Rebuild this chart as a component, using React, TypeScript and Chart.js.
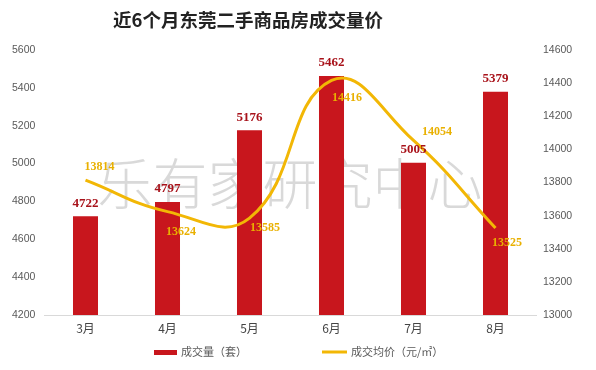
import React, { useEffect, useRef } from "react";
import { Chart, registerables } from "chart.js";

Chart.register(...registerables);

const title = "近6个月东莞二手商品房成交量价";
const categories = ["3月", "4月", "5月", "6月", "7月", "8月"];
const volume = [4722, 4797, 5176, 5462, 5005, 5379];
const price = [13814, 13624, 13585, 14416, 14054, 13525];
const volumeLabel = "成交量（套）";
const priceLabel = "成交均价（元/㎡）";
const leftAxis = { min: 4200, max: 5600, step: 200 };
const rightAxis = { min: 13000, max: 14600, step: 200 };
const watermark = "乐有家研究中心";

// label offsets (style only) for price labels relative to their points
const priceLabelOffsets: [number, number][] = [
  [14, -13],
  [13.5, 20],
  [15.5, 10],
  [15.5, 17],
  [23.5, -9],
  [11.5, 15],
];

const BAR = "#C8161D";
const LINE = "#F2B705";

const overlay = {
  id: "overlay",
  beforeDatasetsDraw(chart: any) {
    const { ctx } = chart;
    ctx.save();
    ctx.font = '300 55px "Noto Sans CJK SC"';
    ctx.fillStyle = "rgba(165,165,165,0.42)";
    ctx.textAlign = "center";
    ctx.textBaseline = "middle";
    ctx.fillText(watermark, 290, 183);
    ctx.restore();
  },
  afterDatasetsDraw(chart: any) {
    const { ctx } = chart;
    ctx.save();
    ctx.textAlign = "center";
    ctx.textBaseline = "middle";
    const barMeta = chart.getDatasetMeta(0);
    ctx.font = 'bold 13px "Liberation Serif"';
    ctx.fillStyle = "#A8121A";
    barMeta.data.forEach((el: any, i: number) => {
      ctx.fillText(String(volume[i]), el.x, el.y - 13);
    });
    const lineMeta = chart.getDatasetMeta(1);
    ctx.font = 'bold 12px "Liberation Serif"';
    ctx.fillStyle = "#E9B000";
    lineMeta.data.forEach((el: any, i: number) => {
      const [dx, dy] = priceLabelOffsets[i];
      ctx.fillText(String(price[i]), el.x + dx, el.y + dy);
    });
    ctx.restore();
  },
  afterDraw(chart: any) {
    const { ctx } = chart;
    ctx.save();
    ctx.font = 'bold 18.5px "Noto Sans CJK SC"';
    ctx.fillStyle = "#222";
    ctx.textAlign = "center";
    ctx.textBaseline = "middle";
    ctx.fillText(title, 248, 20);

    // legend
    ctx.font = '11px "Noto Sans CJK SC"';
    ctx.textAlign = "left";
    ctx.fillStyle = BAR;
    ctx.fillRect(154, 350, 23, 5);
    ctx.fillStyle = "#595959";
    ctx.fillText(volumeLabel, 181, 352);
    ctx.strokeStyle = LINE;
    ctx.lineWidth = 3;
    ctx.beginPath();
    ctx.moveTo(322, 352);
    ctx.lineTo(347, 352);
    ctx.stroke();
    ctx.fillText(priceLabel, 351, 352);
    ctx.restore();
  },
};

const plain = (v: any) => String(v);

export default function App() {
  const ref = useRef<HTMLCanvasElement>(null);
  useEffect(() => {
    if (!ref.current) return;
    const chart = new Chart(ref.current, {
      type: "bar",
      data: {
        labels: categories,
        datasets: [
          {
            type: "bar",
            label: volumeLabel,
            data: volume,
            backgroundColor: BAR,
            yAxisID: "y",
            categoryPercentage: 1,
            barPercentage: 0.305,
            order: 2,
          },
          {
            type: "line",
            label: priceLabel,
            data: price,
            borderColor: LINE,
            borderWidth: 3,
            pointRadius: 0,
            tension: 0.45,
            fill: false,
            yAxisID: "y1",
            order: 1,
          } as any,
        ],
      },
      options: {
        responsive: false,
        animation: false,
        devicePixelRatio: 1,
        layout: { padding: { top: 50, left: 12, right: 0, bottom: 0 } },
        plugins: {
          legend: { display: false },
          tooltip: { enabled: false },
          title: { display: false },
        },
        scales: {
          x: {
            grid: { display: false, drawTicks: false },
            border: { display: true, color: "#D9D9D9", width: 1 },
            ticks: {
              color: "#444",
              font: { size: 12, family: '"Noto Sans CJK SC"' },
              padding: 6,
            },
            afterFit(scale: any) {
              scale.height = 55;
            },
          },
          y: {
            position: "left",
            min: leftAxis.min,
            max: leftAxis.max,
            grid: { display: false, drawTicks: false },
            border: { display: false },
            ticks: {
              stepSize: leftAxis.step,
              color: "#595959",
              font: { size: 10.5, family: '"Liberation Sans"' },
              crossAlign: "far",
              padding: 6,
              callback: plain,
            },
            afterFit(scale: any) {
              scale.width = 32.5;
            },
          },
          y1: {
            position: "right",
            min: rightAxis.min,
            max: rightAxis.max,
            grid: { display: false, drawTicks: false },
            border: { display: false },
            ticks: {
              stepSize: rightAxis.step,
              color: "#595959",
              font: { size: 10.5, family: '"Liberation Sans"' },
              padding: 6.5,
              callback: plain,
            },
            afterFit(scale: any) {
              scale.width = 59.5;
            },
          },
        },
      },
      plugins: [overlay],
    });
    return () => chart.destroy();
  }, []);
  return (
    <div style={{ position: "fixed", left: 0, top: 0, width: 596, height: 370, background: "#fff" }}>
      <canvas ref={ref} width={596} height={370} style={{ width: 596, height: 370 }} />
    </div>
  );
}
